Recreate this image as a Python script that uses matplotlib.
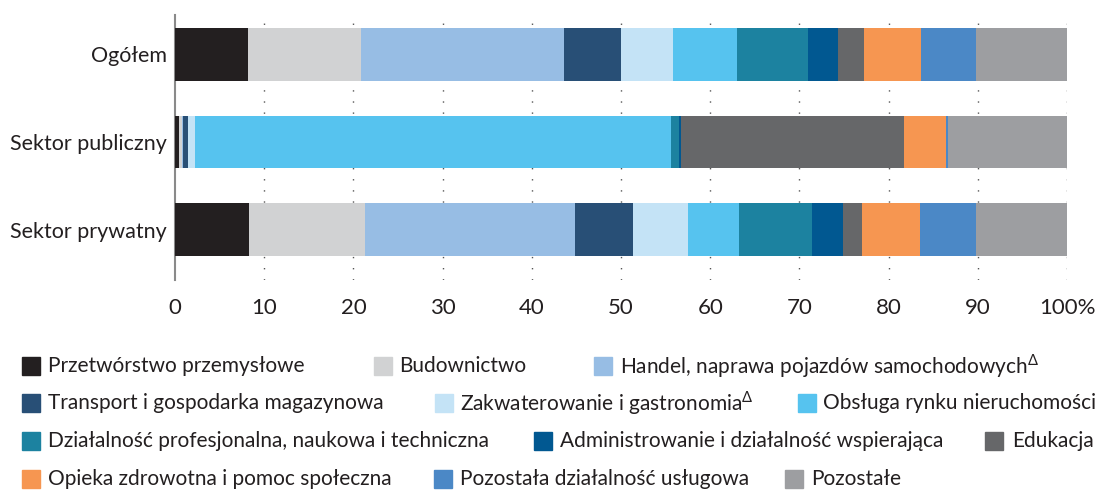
import matplotlib
matplotlib.use("Agg")
import matplotlib.pyplot as plt
from matplotlib.patches import Rectangle

categories = ["Ogółem", "Sektor publiczny", "Sektor prywatny"]
sectors = [
    "Przetwórstwo przemysłowe",
    "Budownictwo",
    "Handel, naprawa pojazdów samochodowych$^{\\Delta}$",
    "Transport i gospodarka magazynowa",
    "Zakwaterowanie i gastronomia$^{\\Delta}$",
    "Obsługa rynku nieruchomości",
    "Działalność profesjonalna, naukowa i techniczna",
    "Administrowanie i działalność wspierająca",
    "Edukacja",
    "Opieka zdrowotna i pomoc społeczna",
    "Pozostała działalność usługowa",
    "Pozostałe",
]
colors = ["#231f20", "#d1d2d3", "#97bde4", "#284f76", "#c4e3f6", "#56c3ef",
          "#1c82a0", "#015891", "#666769", "#f69651", "#4b88c6", "#9d9ea1"]

ogolem = [8.2, 12.65, 22.75, 6.4, 5.8, 7.2, 7.95, 3.35, 2.9, 6.4, 6.2, 10.2]
publiczny = [0.45, 0.35, 0.1, 0.55, 0.8, 53.4, 0.9, 0.2, 25.0, 4.7, 0.2, 13.35]
prywatny = [8.3, 13.0, 23.5, 6.6, 6.1, 5.7, 8.2, 3.5, 2.1, 6.5, 6.3, 10.2]
series = [ogolem, publiczny, prywatny]

xticks = [0, 10, 20, 30, 40, 50, 60, 70, 80, 90, 100]
xticklabels = ["0", "10", "20", "30", "40", "50", "60", "70", "80", "90", "100%"]

plt.rcParams["font.family"] = ["Lato", "DejaVu Sans"]
plt.rcParams["mathtext.fontset"] = "custom"
plt.rcParams["mathtext.rm"] = "Lato"

W, H = 1103, 491
fig = plt.figure(figsize=(W / 100, H / 100), dpi=100)
ax = fig.add_axes([175 / W, 1 - 280 / H, (1067 - 175) / W, (280 - 15) / H])

for i, vals in enumerate(series):
    left = 0
    for j, v in enumerate(vals):
        ax.barh(i, v, left=left, height=0.6, color=colors[j], zorder=3, linewidth=0)
        left += v

ax.set_xlim(0, 100)
ax.set_ylim(2.577, -0.451)
ax.set_yticks(range(len(categories)))
ax.set_yticklabels(categories, fontsize=15.5, color="#231f20")
ax.set_xticks(xticks)
ax.set_xticklabels(xticklabels, fontsize=16, color="#231f20")
ax.tick_params(axis="both", length=0)
ax.tick_params(axis="x", pad=13)
ax.tick_params(axis="y", pad=6)
for s in ["top", "right", "bottom"]:
    ax.spines[s].set_visible(False)
ax.spines["left"].set_color("#8a8a8a")
ax.spines["left"].set_linewidth(1.5)
for x in xticks[1:]:
    ax.axvline(x, color="#555555", linestyle=(0, (1, 7)), linewidth=1, zorder=1)

# legend (manual layout)
rows = [
    [(22, 48, 0), (374, 399, 1), (594, 620, 2)],
    [(22, 48, 3), (435, 460, 4), (798, 823, 5)],
    [(22, 48, 6), (534, 560, 7), (985, 1012, 8)],
    [(22, 48, 9), (434, 460, 10), (785, 811, 11)],
]
row_y = [366, 403, 441, 479]
for r, items in enumerate(rows):
    yc = row_y[r]
    for sx, tx, k in items:
        fig.patches.append(Rectangle((sx / W, 1 - (yc + 9) / H), 18 / W, 18 / H,
                                     transform=fig.transFigure, color=colors[k]))
        fig.text(tx / W, 1 - yc / H, sectors[k], fontsize=15, va="center",
                 ha="left", color="#231f20")

fig.savefig("out.png", dpi=100)
